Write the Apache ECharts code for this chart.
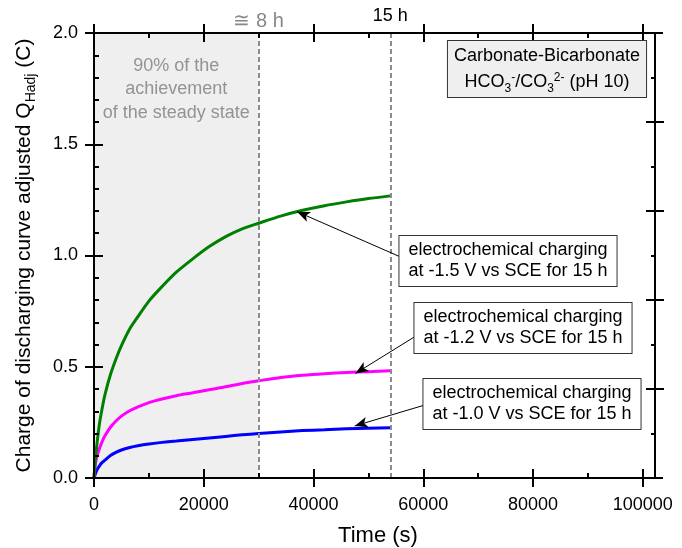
<!DOCTYPE html>
<html><head><meta charset="utf-8">
<script src="https://cdn.jsdelivr.net/npm/echarts@6/dist/echarts.min.js"></script>
<style>html,body{margin:0;padding:0;background:#fff}#c{width:682px;height:548px}</style>
</head><body><div id="c"></div>
<script>
// ---- data ----
const timeS = [0,200,500,1000,1500,2000,3000,4000,5000,6500,8000,10000,12000,15000,18000,21000,24000,27000,30000,34000,38000,42000,46000,50000,54000];
const q15 = [0,0.07,0.145,0.245,0.315,0.375,0.465,0.535,0.595,0.67,0.725,0.795,0.85,0.925,0.985,1.04,1.085,1.12,1.145,1.177,1.203,1.224,1.241,1.256,1.268];
const q12 = [0,0.053,0.095,0.133,0.165,0.19,0.228,0.256,0.278,0.302,0.32,0.339,0.353,0.37,0.383,0.397,0.41,0.425,0.437,0.452,0.462,0.469,0.474,0.478,0.482];
const q10 = [0,0.015,0.035,0.055,0.07,0.08,0.101,0.115,0.126,0.137,0.145,0.153,0.159,0.166,0.173,0.18,0.187,0.194,0.2,0.207,0.213,0.217,0.221,0.224,0.226];
const xTicks = [0,20000,40000,60000,80000,100000];
const xMinor = [10000,30000,50000,70000,90000];
const yTicks = [0,0.5,1.0,1.5,2.0];
const yMinor = [0.1,0.2,0.3,0.4,0.6,0.7,0.8,0.9,1.1,1.2,1.3,1.4,1.6,1.7,1.8,1.9];
const rTicks = [0.4,0.8,1.2,1.6];
const rMinor = [0.2,0.6,1.0,1.4,1.8];
const shadeRange = [0, 30000];
const vLines = [30000, 54000];
const vLineLabels = ['\u2245 8 h', '15 h'];
const arrow15 = [[55710,0.995],[37000,1.197]];
const arrow12 = [[58440,0.635],[47640,0.47]];
const arrow10 = [[60270,0.328],[47510,0.234]];
const xMax = 103500, yMax = 2.0;

const FF = 'Liberation Sans, Arial, sans-serif';
const chart = echarts.init(document.getElementById('c'));

function xAx(pos, vals, len, inside, label) {
  const a = {
    type:'value', position:pos, min:0, max:xMax, z:10,
    splitLine:{show:false},
    axisLine:{onZero:false, lineStyle:{color:'#000', width:2}},
    axisTick:{show:true, inside:inside, length:len, customValues:vals, lineStyle:{color:'#000', width:2}},
    axisLabel:{show:false}
  };
  if (label) {
    a.axisLabel = {show:true, customValues:xTicks, formatter:v=>String(v), fontSize:18, color:'#000', margin:18, fontFamily:FF};
    a.name = 'Time (s)'; a.nameLocation = 'middle'; a.nameGap = 47;
    a.nameTextStyle = {fontSize:22, color:'#000', fontFamily:FF};
  }
  return a;
}
function yAx(pos, vals, len, inside, label, offset) {
  const a = {
    type:'value', position:pos, offset:offset||0, min:0, max:yMax, z:10,
    splitLine:{show:false},
    axisLine:{onZero:false, lineStyle:{color:'#000', width:2}},
    axisTick:{show:true, inside:inside, length:len, customValues:vals, lineStyle:{color:'#000', width:2}},
    axisLabel:{show:false}
  };
  if (label) {
    a.axisLabel = {show:true, customValues:yTicks, formatter:v=>v.toFixed(1), fontSize:18, color:'#000', margin:16, fontFamily:FF};
    a.name = 'Charge of discharging curve adjusted Q{sub|Hadj} (C)';
    a.nameLocation = 'middle'; a.nameGap = 56;
    a.nameTextStyle = {fontSize:21, color:'#000', fontFamily:FF, lineHeight:28,
      rich:{sub:{fontSize:14, fontFamily:FF, color:'#000', verticalAlign:'bottom'}}};
  }
  return a;
}

const xAxes = [
  xAx('bottom', xTicks, 9, true, true),
  xAx('bottom', xTicks, 9, false, false),
  xAx('bottom', xMinor, 5, true, false),
  xAx('top', xTicks, 9, true, false),
  xAx('top', xTicks, 9, false, false),
  xAx('top', xMinor, 5, true, false)
];
const yAxes = [
  yAx('left', yTicks, 9, true, true),
  yAx('left', yTicks, 9, false, false),
  yAx('left', yMinor, 5, true, false),
  yAx('right', rTicks, 9, true, false, -7),
  yAx('right', rTicks, 9, false, false, -7),
  yAx('right', rMinor, 4, true, false, -7)
];

function arrowItem(a) {
  return [
    {coord:a[0], symbol:'none', lineStyle:{color:'#000', width:1, type:'solid'}, label:{show:false}},
    {coord:a[1], symbol:'arrow', symbolSize:[8,13]}
  ];
}
function pairs(vals) { return timeS.map((t,i)=>[t, vals[i]]); }

const lineCommon = {type:'line', xAxisIndex:0, yAxisIndex:0, showSymbol:false, smooth:0.25, z:3};

const option = {
  animation:false,
  backgroundColor:'#fff',
  grid:{left:94, top:33, right:20, height:445, containLabel:false, outerBoundsMode:'none'},
  xAxis:xAxes,
  yAxis:yAxes,
  series:[
    Object.assign({}, lineCommon, {
      name:'-1.0 V', data:pairs(q10), lineStyle:{color:'#0000ff', width:3}, itemStyle:{color:'#0000ff'},
      markArea:{silent:true, itemStyle:{color:'#efefef'},
        label:{show:true, position:'insideTop', distance:21, color:'#939393', fontSize:18, lineHeight:23.5, fontFamily:FF, align:'center',
          formatter:'90% of the\nachievement\nof the steady state'},
        data:[[{xAxis:shadeRange[0]},{xAxis:shadeRange[1]}]]},
      markLine:{silent:true, animation:false, data:[arrowItem(arrow10)]}
    }),
    Object.assign({}, lineCommon, {
      name:'-1.2 V', data:pairs(q12), lineStyle:{color:'#ff00ff', width:3}, itemStyle:{color:'#ff00ff'},
      markLine:{silent:true, animation:false, data:[arrowItem(arrow12)]}
    }),
    Object.assign({}, lineCommon, {
      name:'-1.5 V', data:pairs(q15), lineStyle:{color:'#008000', width:3}, itemStyle:{color:'#008000'},
      markLine:{silent:true, animation:false, symbol:['none','none'],
        data:[
          {xAxis:vLines[0], lineStyle:{color:'#8c8c8c', width:2, type:[5,3]},
            label:{show:true, position:'end', formatter:vLineLabels[0], color:'#888', fontSize:20, distance:2, fontFamily:FF}},
          {xAxis:vLines[1], lineStyle:{color:'#8c8c8c', width:2, type:[5,3]},
            label:{show:true, position:'end', formatter:vLineLabels[1], color:'#000', fontSize:18, distance:8, fontFamily:FF}},
          arrowItem(arrow15)
        ]}
    })
  ],
  graphic:[
    {type:'text', x:547, y:69, z:100, style:{
      text:'Carbonate-Bicarbonate\nHCO{s|3}{p|-}/CO{s|3}{p|2-} (pH 10)',
      fontSize:18, fontFamily:FF, fill:'#000', align:'center', verticalAlign:'middle',
      textAlign:'center', textVerticalAlign:'middle', lineHeight:26,
      backgroundColor:'#efefef', borderColor:'#333', borderWidth:1, padding:[2,6],
      rich:{s:{fontSize:12, fontFamily:FF, fill:'#000', verticalAlign:'bottom'}, p:{fontSize:12, fontFamily:FF, fill:'#000', verticalAlign:'top', padding:[3,0,0,0]}}
    }},
    {type:'text', x:508, y:261, z:100, style:{
      text:'electrochemical charging\nat -1.5 V vs SCE for 15 h', fontSize:18, fontFamily:FF, fill:'#000',
      align:'center', verticalAlign:'middle', textAlign:'center', textVerticalAlign:'middle', lineHeight:21,
      backgroundColor:'#fff', borderColor:'#333', borderWidth:1, padding:[4,9]}},
    {type:'text', x:523, y:328, z:100, style:{
      text:'electrochemical charging\nat -1.2 V vs SCE for 15 h', fontSize:18, fontFamily:FF, fill:'#000',
      align:'center', verticalAlign:'middle', textAlign:'center', textVerticalAlign:'middle', lineHeight:21,
      backgroundColor:'#fff', borderColor:'#333', borderWidth:1, padding:[4,9]}},
    {type:'text', x:532, y:404, z:100, style:{
      text:'electrochemical charging\nat -1.0 V vs SCE for 15 h', fontSize:18, fontFamily:FF, fill:'#000',
      align:'center', verticalAlign:'middle', textAlign:'center', textVerticalAlign:'middle', lineHeight:21,
      backgroundColor:'#fff', borderColor:'#333', borderWidth:1, padding:[4,9]}}
  ]
};
chart.setOption(option);
</script></body></html>
